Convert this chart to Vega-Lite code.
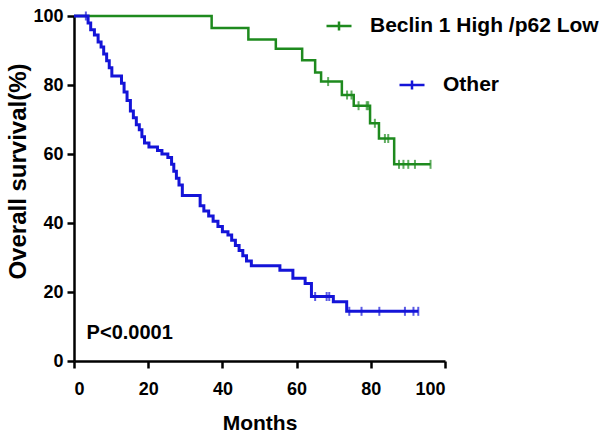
{
  "$schema": "https://vega.github.io/schema/vega-lite/v6.json",
  "width": 371,
  "height": 345,
  "autosize": "none",
  "padding": {"left": 74, "top": 16, "right": 155, "bottom": 80},
  "background": "white",
  "config": {
    "view": {"stroke": null},
    "font": "Liberation Sans",
    "axis": {
      "grid": false,
      "domainColor": "black",
      "domainWidth": 2.5,
      "tickColor": "black",
      "tickWidth": 2.5,
      "tickSize": 7,
      "labelFont": "Liberation Sans",
      "labelFontWeight": "bold",
      "labelFontSize": 18,
      "labelColor": "black",
      "titleFont": "Liberation Sans",
      "titleFontWeight": "bold",
      "titleColor": "black"
    },
    "legend": {
      "labelFont": "Liberation Sans",
      "labelFontWeight": "bold",
      "labelFontSize": 21,
      "labelColor": "black",
      "labelLimit": 0,
      "title": null,
      "padding": 0,
      "symbolType": "M-1,0H1M0,-0.36V0.36",
      "symbolSize": 625,
      "symbolStrokeWidth": 2.5,
      "symbolFillColor": "transparent",
      "labelOffset": 17
    }
  },
  "datasets": {
    "green": [
      {"t": 0, "s": 100, "c": false},
      {"t": 37.1, "s": 96.5, "c": false},
      {"t": 47, "s": 93.2, "c": false},
      {"t": 54.4, "s": 90.5, "c": false},
      {"t": 61.5, "s": 87.2, "c": false},
      {"t": 65, "s": 83.6, "c": false},
      {"t": 66.6, "s": 81, "c": false},
      {"t": 68.5, "s": 81, "c": true},
      {"t": 72.2, "s": 77.1, "c": false},
      {"t": 73.6, "s": 77.1, "c": true},
      {"t": 74.8, "s": 77.1, "c": true},
      {"t": 75.4, "s": 74, "c": false},
      {"t": 76.7, "s": 74, "c": true},
      {"t": 78.9, "s": 74, "c": true},
      {"t": 79.3, "s": 74, "c": true},
      {"t": 79.8, "s": 68.9, "c": false},
      {"t": 81.1, "s": 68.9, "c": true},
      {"t": 82.2, "s": 64.5, "c": false},
      {"t": 83.8, "s": 64.5, "c": true},
      {"t": 84.7, "s": 64.5, "c": true},
      {"t": 86.3, "s": 57, "c": false},
      {"t": 87.6, "s": 57, "c": true},
      {"t": 88.8, "s": 57, "c": true},
      {"t": 90.1, "s": 57, "c": true},
      {"t": 91.9, "s": 57, "c": true},
      {"t": 96.1, "s": 57, "c": true}
    ],
    "blue": [
      {"t": 0, "s": 100, "c": false},
      {"t": 3.2, "s": 100, "c": true},
      {"t": 3.8, "s": 98, "c": false},
      {"t": 4.5, "s": 96, "c": false},
      {"t": 5.5, "s": 94.5, "c": false},
      {"t": 6.5, "s": 92.5, "c": false},
      {"t": 7.3, "s": 91, "c": false},
      {"t": 8, "s": 89, "c": false},
      {"t": 8.8, "s": 87, "c": false},
      {"t": 9.5, "s": 85, "c": false},
      {"t": 10.2, "s": 82.6, "c": false},
      {"t": 12.8, "s": 80.5, "c": false},
      {"t": 13.5, "s": 78, "c": false},
      {"t": 14.3, "s": 75.5, "c": false},
      {"t": 15.2, "s": 72.5, "c": false},
      {"t": 16, "s": 70.5, "c": false},
      {"t": 16.8, "s": 68.5, "c": false},
      {"t": 17.6, "s": 67, "c": false},
      {"t": 18.3, "s": 65, "c": false},
      {"t": 19, "s": 63.2, "c": false},
      {"t": 20.2, "s": 62, "c": false},
      {"t": 22.5, "s": 61, "c": false},
      {"t": 23.7, "s": 60, "c": false},
      {"t": 25.3, "s": 59, "c": false},
      {"t": 26.3, "s": 57, "c": false},
      {"t": 26.9, "s": 55, "c": false},
      {"t": 27.6, "s": 53, "c": false},
      {"t": 28.3, "s": 51, "c": false},
      {"t": 29.2, "s": 48, "c": false},
      {"t": 34, "s": 45, "c": false},
      {"t": 35, "s": 43.5, "c": false},
      {"t": 36.3, "s": 42, "c": false},
      {"t": 37.5, "s": 40.5, "c": false},
      {"t": 38.8, "s": 39, "c": false},
      {"t": 40, "s": 37.5, "c": false},
      {"t": 41.5, "s": 36.5, "c": false},
      {"t": 42.5, "s": 35, "c": false},
      {"t": 43.5, "s": 33.5, "c": false},
      {"t": 44.5, "s": 32, "c": false},
      {"t": 45.5, "s": 30.5, "c": false},
      {"t": 46.5, "s": 29, "c": false},
      {"t": 47.8, "s": 27.6, "c": false},
      {"t": 55.5, "s": 26.3, "c": false},
      {"t": 59, "s": 24, "c": false},
      {"t": 62.3, "s": 22.5, "c": false},
      {"t": 64, "s": 18.7, "c": false},
      {"t": 65, "s": 18.7, "c": true},
      {"t": 68.1, "s": 18.7, "c": true},
      {"t": 68.8, "s": 18.7, "c": true},
      {"t": 69.9, "s": 17.2, "c": false},
      {"t": 73.5, "s": 14.4, "c": false},
      {"t": 74.2, "s": 14.4, "c": true},
      {"t": 77.5, "s": 14.4, "c": true},
      {"t": 82.3, "s": 14.4, "c": true},
      {"t": 89.2, "s": 14.4, "c": true},
      {"t": 91.5, "s": 14.4, "c": true},
      {"t": 92.8, "s": 14.4, "c": true}
    ],
    "note": [{"label": "P<0.0001"}]
  },
  "layer": [
    {
      "data": {"name": "green"},
      "mark": {"type": "line", "interpolate": "step-after", "strokeWidth": 2.5},
      "encoding": {
        "x": {
          "field": "t",
          "type": "quantitative",
          "scale": {"domain": [0, 100], "nice": false},
          "axis": {
            "values": [0, 20, 40, 60, 80, 100],
            "title": "Months",
            "titleFontSize": 21,
            "labelPadding": 12,
            "titlePadding": 14
          }
        },
        "y": {
          "field": "s",
          "type": "quantitative",
          "scale": {"domain": [0, 100], "nice": false},
          "axis": {
            "values": [0, 20, 40, 60, 80, 100],
            "title": "Overall survival(%)",
            "titleFontSize": 24,
            "labelPadding": 4,
            "titlePadding": 2,
            "titleY": 155
          }
        },
        "color": {
          "datum": "Beclin 1 High /p62 Low",
          "type": "nominal",
          "scale": {"domain": ["Beclin 1 High /p62 Low"], "range": ["#1e8a1e"]},
          "legend": {"orient": "none", "legendX": 251, "legendY": -4}
        }
      }
    },
    {
      "data": {"name": "green"},
      "transform": [{"filter": "datum.c"}],
      "mark": {"type": "tick", "orient": "vertical", "size": 9, "thickness": 2, "color": "#1e8a1e"},
      "encoding": {
        "x": {"field": "t", "type": "quantitative"},
        "y": {"field": "s", "type": "quantitative"}
      }
    },
    {
      "data": {"name": "blue"},
      "mark": {"type": "line", "interpolate": "step-after", "strokeWidth": 3},
      "encoding": {
        "x": {"field": "t", "type": "quantitative"},
        "y": {"field": "s", "type": "quantitative"},
        "stroke": {
          "datum": "Other",
          "type": "nominal",
          "scale": {"domain": ["Other"], "range": ["#1414d8"]},
          "legend": {"orient": "none", "legendX": 324, "legendY": 55}
        }
      }
    },
    {
      "data": {"name": "blue"},
      "transform": [{"filter": "datum.c"}],
      "mark": {"type": "tick", "orient": "vertical", "size": 9, "thickness": 2, "color": "#1414d8"},
      "encoding": {
        "x": {"field": "t", "type": "quantitative"},
        "y": {"field": "s", "type": "quantitative"}
      }
    },
    {
      "data": {"name": "note"},
      "mark": {"type": "text", "align": "left", "baseline": "middle", "font": "Liberation Sans", "fontWeight": "bold", "fontSize": 20, "color": "black"},
      "encoding": {
        "x": {"datum": 3.4, "type": "quantitative"},
        "y": {"datum": 8.1, "type": "quantitative"},
        "text": {"field": "label"}
      }
    }
  ]
}
